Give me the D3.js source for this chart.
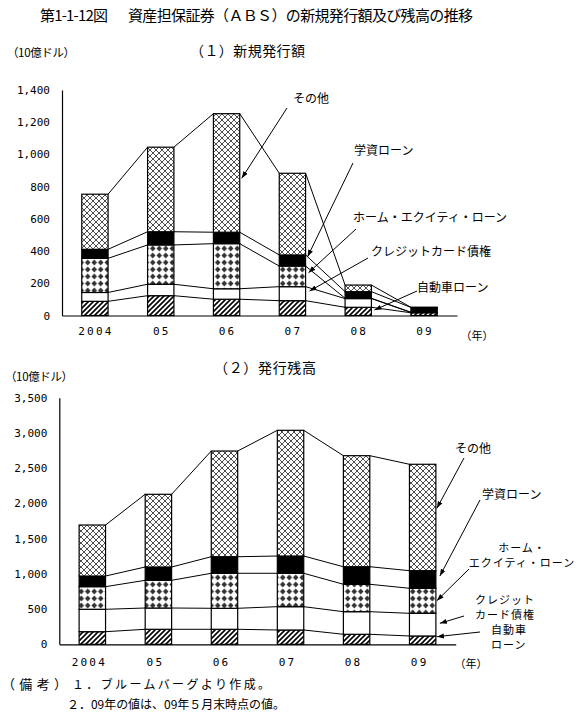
<!DOCTYPE html>
<html>
<head>
<meta charset="utf-8">
<script src="https://cdn.jsdelivr.net/npm/d3@7"></script>
<style>
  body { margin: 0; background: #fff; }
  text { font-family: "Noto Sans CJK JP", sans-serif; fill: #000; }
  .num { font-family: "DejaVu Sans Mono", monospace; }
</style>
</head>
<body>
<script>
const years = ["2004", "05", "06", "07", "08", "09"];
const keys = ["auto", "credit", "homeEq", "student", "other"];

// (1) new issuance, 10 bn dollars
const newAuto    = [88, 123, 101, 92, 51, 17];
const newCredit  = [55, 71, 65, 87, 54, 2];
const newHomeEq  = [212, 244, 280, 128, 2, 1];
const newStudent = [56, 82, 71, 69, 41, 30];
const newOther   = [342, 525, 736, 507, 41, 1];
const newTicks = [0, 200, 400, 600, 800, 1000, 1200, 1400];

// (2) outstanding, 10 bn dollars
const stockAuto    = [179, 213, 213, 203, 142, 118];
const stockCredit  = [318, 302, 298, 331, 321, 322];
const stockHomeEq  = [321, 393, 497, 474, 389, 355];
const stockStudent = [151, 189, 235, 245, 249, 250];
const stockOther   = [724, 1032, 1500, 1784, 1576, 1510];
const stockTicks = [0, 500, 1000, 1500, 2000, 2500, 3000, 3500];

const svg = d3.select("body").append("svg")
  .attr("width", 578)
  .attr("height", 717);

// fill patterns
const defs = svg.append("defs");

const cross = defs.append("pattern").attr("id", "p-cross")
  .attr("patternUnits", "userSpaceOnUse").attr("width", 6).attr("height", 6);
cross.append("rect").attr("width", 6).attr("height", 6).attr("fill", "#fff");
cross.append("path").attr("d", "M0,0L6,6M6,0L0,6")
  .attr("stroke", "#000").attr("stroke-width", 0.7);

const hatch = defs.append("pattern").attr("id", "p-hatch")
  .attr("patternUnits", "userSpaceOnUse").attr("width", 5).attr("height", 5);
hatch.append("rect").attr("width", 5).attr("height", 5).attr("fill", "#fff");
hatch.append("path").attr("d", "M-1,6L6,-1M-2,2L2,-2M3,7L7,3")
  .attr("stroke", "#000").attr("stroke-width", 1.6);

const dots = defs.append("pattern").attr("id", "p-dots")
  .attr("patternUnits", "userSpaceOnUse").attr("width", 6.5).attr("height", 7);
dots.append("rect").attr("width", 6.5).attr("height", 7).attr("fill", "#fff");
dots.append("path").attr("d", "M3.25,0.6L6,3.5L3.25,6.4L0.5,3.5Z").attr("fill", "#333");

const fills = {
  auto: "url(#p-hatch)",
  credit: "#fff",
  homeEq: "url(#p-dots)",
  student: "#000",
  other: "url(#p-cross)"
};

defs.append("marker").attr("id", "arrow")
  .attr("markerUnits", "userSpaceOnUse")
  .attr("markerWidth", 7).attr("markerHeight", 6)
  .attr("refX", 7).attr("refY", 3)
  .attr("orient", "auto")
  .append("path").attr("d", "M0,0.5L7,3L0,5.5Z").attr("fill", "#000");

function drawChart(g, cfg) {
  const x = d3.scaleBand().domain(years)
    .range([cfg.x0, cfg.x1])
    .paddingInner(0.6).paddingOuter(0.3);
  const y = d3.scaleLinear().domain([0, cfg.ticks[cfg.ticks.length - 1]])
    .range([cfg.yBase, cfg.yTop]);
  const bw = x.bandwidth();

  const rows = years.map((yr, i) => {
    const r = { year: yr };
    keys.forEach((k, j) => r[k] = cfg.series[j][i]);
    return r;
  });
  const stacked = d3.stack().keys(keys)(rows);

  // connecting lines between bars
  stacked.forEach(layer => {
    for (let i = 0; i < years.length - 1; i++) {
      g.append("line")
        .attr("x1", x(years[i]) + bw).attr("y1", y(layer[i][1]))
        .attr("x2", x(years[i + 1])).attr("y2", y(layer[i + 1][1]))
        .attr("stroke", "#000").attr("stroke-width", 1);
    }
  });

  g.selectAll(".layer").data(stacked).join("g")
    .attr("class", "layer")
    .attr("fill", d => fills[d.key])
    .selectAll("rect").data(d => d).join("rect")
    .attr("x", d => x(d.data.year))
    .attr("width", bw)
    .attr("y", d => y(d[1]))
    .attr("height", d => y(d[0]) - y(d[1]))
    .attr("stroke", "#000")
    .attr("stroke-width", 1.2);

  // axes
  const yAxis = g.append("g")
    .attr("transform", `translate(${cfg.x0},0)`)
    .call(d3.axisLeft(y).tickValues(cfg.ticks).tickFormat(d3.format(","))
      .tickSize(0).tickPadding(12));
  yAxis.select(".domain").attr("stroke", "#000").attr("stroke-width", 1.2);
  yAxis.selectAll("text").attr("class", "num").attr("font-size", 11);

  const xAxis = g.append("g")
    .attr("transform", `translate(0,${cfg.yBase})`)
    .call(d3.axisBottom(x).tickSize(0).tickSizeOuter(0).tickPadding(cfg.xPad));
  xAxis.select(".domain").attr("stroke", "#000").attr("stroke-width", 1.2);
  xAxis.selectAll("text").attr("class", "num").attr("font-size", 11)
    .attr("letter-spacing", 2.2).attr("dx", cfg.xShift);

  g.append("text").attr("x", cfg.yearX).attr("y", cfg.yBase + cfg.yearDy)
    .attr("font-size", 11).attr("text-anchor", "middle")
    .attr("dominant-baseline", "central").text("（年）");

  // callouts
  cfg.notes.forEach(n => {
    n.lines.forEach((t, i) => {
      g.append("text")
        .attr("x", n.tx).attr("y", n.ty + i * (n.lh || 0))
        .attr("font-size", n.fs || 12)
        .attr("text-anchor", n.anchor || "start")
        .attr("dominant-baseline", "central")
        .attr("letter-spacing", n.ls || 0)
        .text(t);
    });
    g.append("line")
      .attr("x1", n.ax).attr("y1", n.ay)
      .attr("x2", x(n.cat) + bw + n.dx).attr("y2", y(n.v))
      .attr("stroke", "#000").attr("stroke-width", 1)
      .attr("marker-end", "url(#arrow)");
  });
}

// titles
svg.append("text").attr("x", 40).attr("y", 14).attr("font-size", 15)
  .attr("dominant-baseline", "central").attr("textLength", 68).text("第1-1-12図");
svg.append("text").attr("x", 128).attr("y", 14).attr("font-size", 15)
  .attr("dominant-baseline", "central").attr("textLength", 345)
  .text("資産担保証券（ＡＢＳ）の新規発行額及び残高の推移");

svg.append("text").attr("x", 190).attr("y", 50).attr("font-size", 14)
  .attr("dominant-baseline", "central").attr("textLength", 115).text("（１）新規発行額");
svg.append("text").attr("x", 7).attr("y", 52).attr("font-size", 11.5)
  .attr("dominant-baseline", "central").attr("textLength", 68).text("（10億ドル）");

svg.append("text").attr("x", 214).attr("y", 367).attr("font-size", 14)
  .attr("dominant-baseline", "central").attr("textLength", 102).text("（２）発行残高");
svg.append("text").attr("x", 5).attr("y", 376).attr("font-size", 11.5)
  .attr("dominant-baseline", "central").attr("textLength", 68).text("（10億ドル）");

drawChart(svg.append("g"), {
  x0: 62, x1: 457, yBase: 315.5, yTop: 90,
  ticks: newTicks,
  series: [newAuto, newCredit, newHomeEq, newStudent, newOther],
  xPad: 12, xShift: 1, yearX: 477, yearDy: 19,
  notes: [
    { lines: ["その他"], tx: 293, ty: 97, ax: 287, ay: 108, cat: "06", v: 852, dx: 2 },
    { lines: ["学資ローン"], tx: 354, ty: 149, ax: 353, ay: 163, cat: "07", v: 365, dx: 2 },
    { lines: ["ホーム・エクイティ・ローン"], tx: 353, ty: 216, ax: 356, ay: 229, cat: "07", v: 266, dx: 3 },
    { lines: ["クレジットカード債権"], tx: 371, ty: 250, ax: 368, ay: 258, cat: "07", v: 152, dx: 4 },
    { lines: ["自動車ローン"], tx: 417, ty: 286, ax: 417, ay: 291, cat: "08", v: 34, dx: 3 }
  ]
});

drawChart(svg.append("g"), {
  x0: 59.3, x1: 455.7, yBase: 644.3, yTop: 397.7,
  ticks: stockTicks,
  series: [stockAuto, stockCredit, stockHomeEq, stockStudent, stockOther],
  xPad: 14, xShift: -3, yearX: 471, yearDy: 19,
  notes: [
    { lines: ["その他"], tx: 455, ty: 447, ax: 464, ay: 458, cat: "09", v: 1930, dx: 1 },
    { lines: ["学資ローン"], tx: 482, ty: 493, ax: 480, ay: 500, cat: "09", v: 969, dx: 4 },
    { lines: ["ホーム・", "エクイティ・ローン"], tx: 522, ty: 547, lh: 15, fs: 11, anchor: "middle", ls: 1,
      ax: 469, ay: 569, cat: "09", v: 619, dx: 1 },
    { lines: ["クレジット", "カード債権"], tx: 475, ty: 599, lh: 15, fs: 11, ls: 1,
      ax: 464, ay: 616, cat: "09", v: 298, dx: 4 },
    { lines: ["自動車", "ローン"], tx: 491, ty: 629, lh: 15, fs: 11, ls: 1,
      ax: 480, ay: 632, cat: "09", v: 108, dx: 1 }
  ]
});

// notes
svg.append("text").attr("x", 2).attr("y", 683).attr("font-size", 13)
  .attr("dominant-baseline", "central").attr("textLength", 65).text("（備考）");
svg.append("text").attr("x", 72).attr("y", 683).attr("font-size", 12)
  .attr("dominant-baseline", "central").attr("textLength", 198).text("１．ブルームバーグより作成。");
svg.append("text").attr("x", 67).attr("y", 703).attr("font-size", 12)
  .attr("dominant-baseline", "central").attr("textLength", 218).text("２．09年の値は、09年５月末時点の値。");
</script>
</body>
</html>
